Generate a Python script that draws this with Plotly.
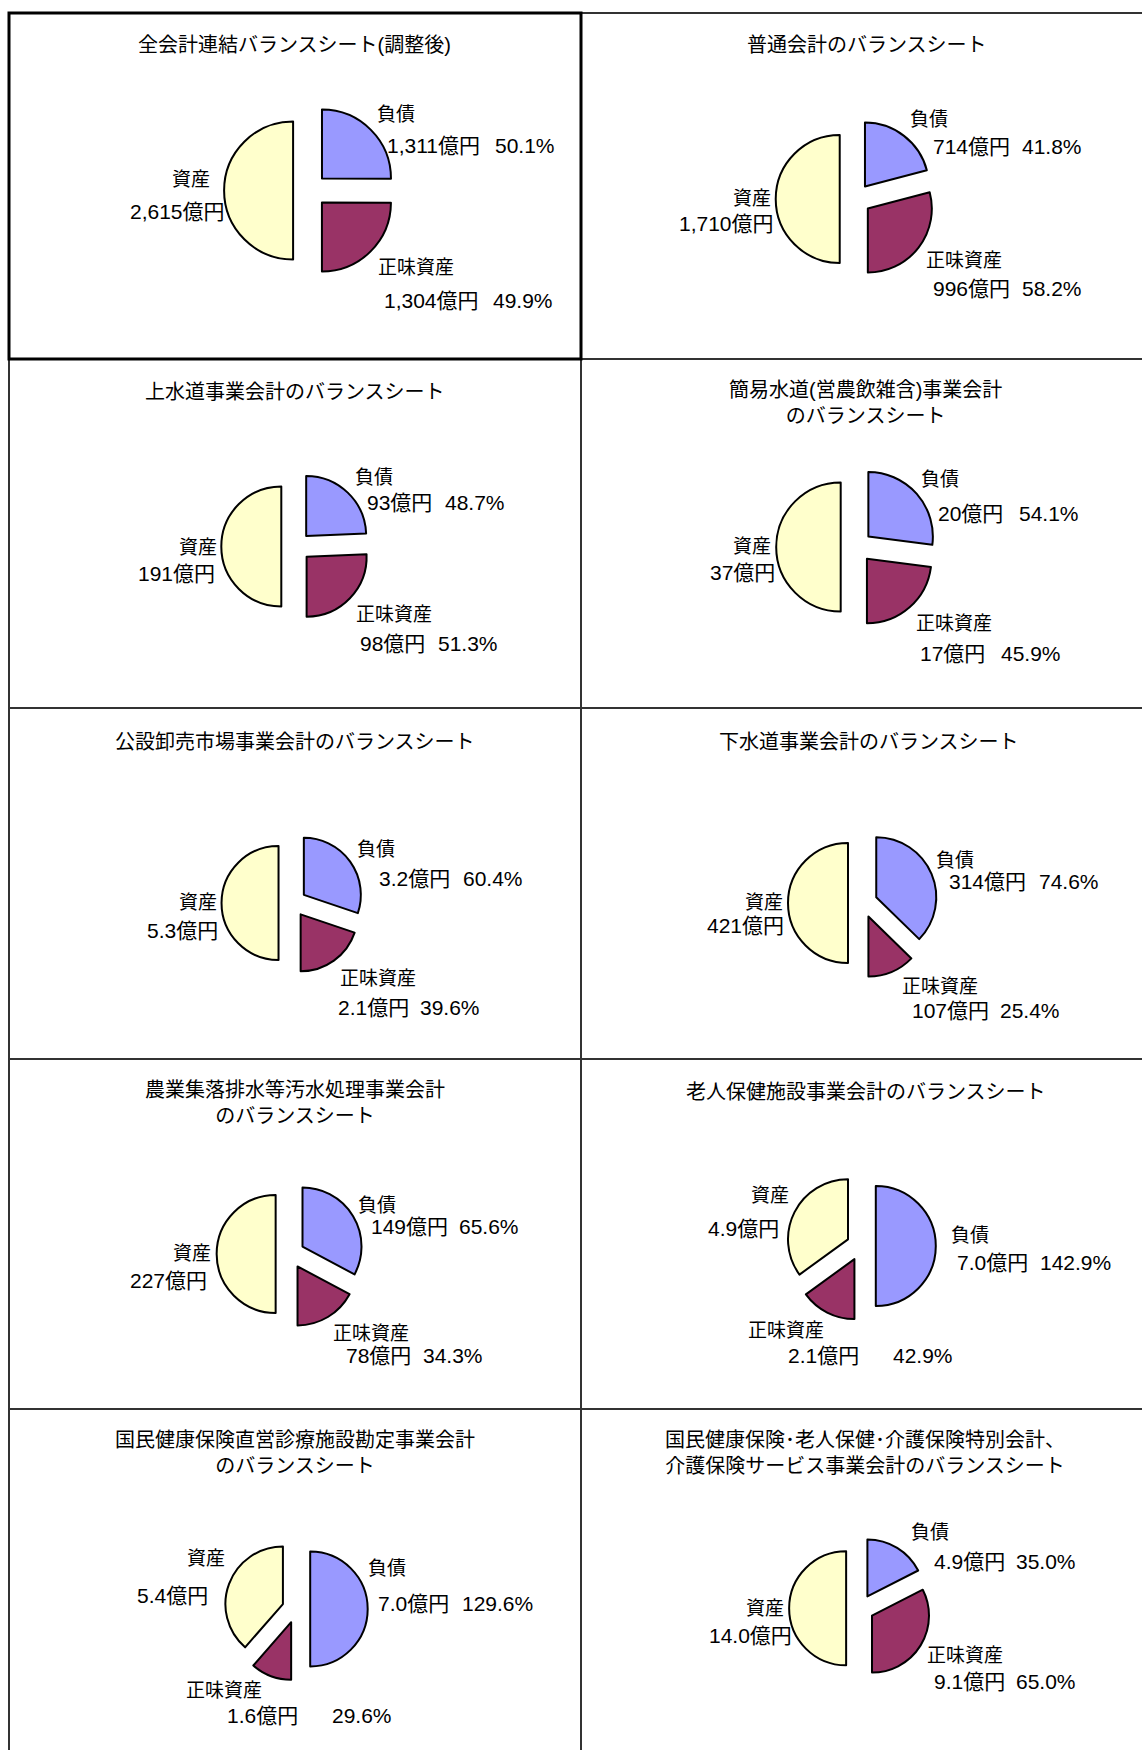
import plotly.graph_objects as go

W, H = 1142, 1750
OFF = 0  # page margin is removed by the post script below

# ---------------- data ----------------
titles = [
    "全会計連結バランスシート(調整後)",
    "普通会計のバランスシート",
    "上水道事業会計のバランスシート",
    "簡易水道(営農飲雑含)事業会計<br>のバランスシート",
    "公設卸売市場事業会計のバランスシート",
    "下水道事業会計のバランスシート",
    "農業集落排水等汚水処理事業会計<br>のバランスシート",
    "老人保健施設事業会計のバランスシート",
    "国民健康保険直営診療施設勘定事業会計<br>のバランスシート",
    "国民健康保険･老人保健･介護保険特別会計、<br>介護保険サービス事業会計のバランスシート",
]
item_names = ["負債", "正味資産", "資産"]
assets = [2615, 1710, 191, 37, 5.3, 421, 227, 4.9, 5.4, 14.0]
liabilities = [1311, 714, 93, 20, 3.2, 314, 149, 7.0, 7.0, 4.9]
net_assets = [1304, 996, 98, 17, 2.1, 107, 78, 2.1, 1.6, 9.1]
liab_pct = [50.1, 41.8, 48.7, 54.1, 60.4, 74.6, 65.6, 142.9, 129.6, 35.0]
net_pct = [49.9, 58.2, 51.3, 45.9, 39.6, 25.4, 34.3, 42.9, 29.6, 65.0]
decimals = [0, 0, 0, 0, 1, 0, 0, 1, 1, 1]

# ---------------- styles / layout (pixel positions on the page) ----------------
colors = ["#9999FF", "#993366", "#FFFFCC"]  # 負債, 正味資産, 資産
PULL = 0.245
FONT = "Liberation Sans, Arial, Noto Sans CJK JP, sans-serif"
TITLE_SIZE, NAME_SIZE, VALUE_SIZE = 20, 19, 21

col_x = [9, 581, 1160]
row_y = [13, 359, 708, 1059, 1409, 1770]

pie_centers = [(310, 190.5), (855.4, 199), (296, 546.5), (856.5, 547), (292.5, 903),
               (862.7, 903), (290.1, 1254), (861.1, 1246), (296.1, 1609), (860.1, 1608.3)]
pie_radii = [69, 64, 60, 64.5, 57, 60, 59, 60, 57.5, 57]

title_xy = [(294.1, 45), (866.7, 45), (295, 391.7), (865.9, 403.3), (295, 741.7),
            (868.6, 741.7), (295.2, 1103.3), (865.9, 1091.7), (295, 1453.3), (865, 1453.3)]

liab_name_xy = [(395.8, 114), (928.5, 119), (373.6, 477.2), (940.2, 480), (376, 849.7),
                (954.9, 860), (376.9, 1205), (969.8, 1235), (387.1, 1568.3), (930, 1532)]
liab_amt_xy = [(433.2, 145), (971.5, 146.7), (399.9, 502), (971, 513.3), (414.7, 878.3),
               (987.7, 881.7), (409.7, 1226.7), (992.2, 1262), (413.9, 1603.3), (969.3, 1561.3)]
liab_pct_xy = [(524.7, 145), (1051.8, 146.7), (475, 502), (1049.2, 513.3), (492.9, 878.3),
               (1068.7, 881.7), (489.2, 1226.7), (1075.1, 1262), (497.5, 1603.3), (1046.3, 1561.3)]
net_name_xy = [(416.1, 267.5), (964, 260), (393.9, 614.7), (953.6, 623.3), (377.9, 978),
               (939.9, 986.7), (371, 1333.3), (785.7, 1330), (223.8, 1690), (964.8, 1655)]
net_amt_xy = [(431.9, 300.7), (971.5, 288.3), (392.1, 643.3), (952.8, 653.3), (373.2, 1007.2),
              (950.1, 1010.5), (378.4, 1355), (823.8, 1355.3), (262.6, 1715.3), (969.3, 1681.3)]
net_pct_xy = [(523.4, 300.7), (1051.8, 288.3), (467.6, 643.3), (1030.9, 653.3), (450.4, 1007.2),
              (1030.4, 1010.5), (453.5, 1355), (922.8, 1355.3), (361.6, 1715.3), (1046.3, 1681.3)]
asset_name_xy = [(190.9, 179), (751.7, 199), (197.5, 547.5), (752.4, 546.2), (198.3, 902.8),
                 (764, 902), (192.3, 1253.8), (770, 1195.3), (205.9, 1558.3), (765.2, 1608.3)]
asset_amt_xy = [(177.6, 211.7), (726.1, 223.3), (176.3, 573.3), (742.5, 572.3), (182.7, 930.5),
                (745.8, 925.3), (168.9, 1280.5), (743.4, 1228.3), (172.9, 1595.3), (750.3, 1635.3)]


def px(x):
    return (x - OFF) / W


def py(y):
    return 1 - (y - OFF) / H


def fmt_amt(v, d):
    return f"{v:,.{d}f}億円"


fig = go.Figure()
annotations = []
shapes = []

# panel borders
for r in range(5):
    for c in range(2):
        idx = r * 2 + c
        if idx == 0:
            continue
        shapes.append(dict(type="rect", xref="paper", yref="paper",
                           x0=px(col_x[c]), x1=px(col_x[c + 1]),
                           y0=py(row_y[r + 1]), y1=py(row_y[r]),
                           line=dict(color="#333333", width=2), layer="below"))
shapes.append(dict(type="rect", xref="paper", yref="paper",
                   x0=px(col_x[0]), x1=px(col_x[1]), y0=py(row_y[1]), y1=py(row_y[0]),
                   line=dict(color="#000000", width=3), layer="below"))


def add_text(text, xy, size):
    annotations.append(dict(text=text, x=px(xy[0]), y=py(xy[1]), xref="paper", yref="paper",
                            showarrow=False, xanchor="center", yanchor="middle",
                            font=dict(family=FONT, size=size, color="#000000")))


for i in range(10):
    cx, cy = pie_centers[i]
    R = pie_radii[i] * (1 + PULL)
    fig.add_trace(go.Pie(
        values=[liabilities[i], net_assets[i], assets[i]],
        labels=item_names,
        sort=False, direction="clockwise", rotation=0,
        pull=[PULL, PULL, PULL],
        marker=dict(colors=colors, line=dict(color="#000000", width=2)),
        textinfo="none", hoverinfo="label+value", showlegend=False,
        domain=dict(x=[px(cx - R), px(cx + R)], y=[py(cy + R), py(cy - R)]),
    ))
    d = decimals[i]
    add_text(titles[i], title_xy[i], TITLE_SIZE)
    add_text(item_names[0], liab_name_xy[i], NAME_SIZE)
    add_text(fmt_amt(liabilities[i], d), liab_amt_xy[i], VALUE_SIZE)
    add_text(f"{liab_pct[i]:.1f}%", liab_pct_xy[i], VALUE_SIZE)
    add_text(item_names[1], net_name_xy[i], NAME_SIZE)
    add_text(fmt_amt(net_assets[i], d), net_amt_xy[i], VALUE_SIZE)
    add_text(f"{net_pct[i]:.1f}%", net_pct_xy[i], VALUE_SIZE)
    add_text(item_names[2], asset_name_xy[i], NAME_SIZE)
    add_text(fmt_amt(assets[i], d), asset_amt_xy[i], VALUE_SIZE)

fig.update_layout(
    width=W, height=H,
    margin=dict(l=0, r=0, t=0, b=0),
    paper_bgcolor="white", plot_bgcolor="white",
    annotations=annotations, shapes=shapes,
    font=dict(family=FONT),
)

fig.write_html(
    "out.html",
    config={"displayModeBar": False},
    post_script="document.body.style.margin='0';document.documentElement.style.overflow='hidden';",
)
